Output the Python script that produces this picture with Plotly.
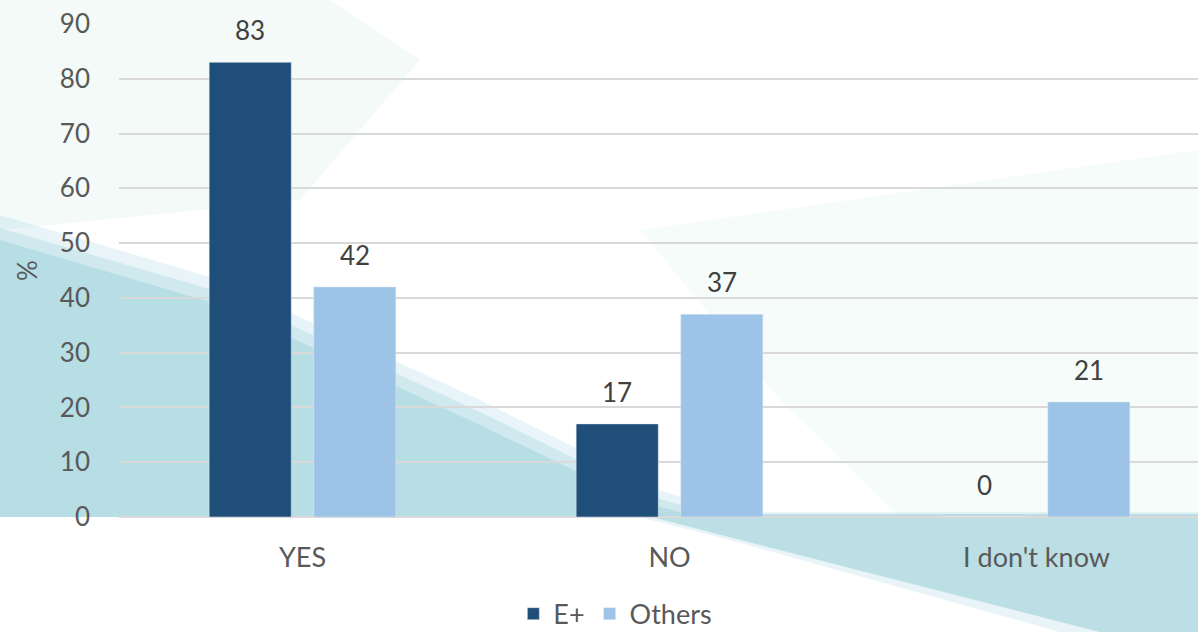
import plotly.graph_objects as go

categories = ["YES", "NO", "I don't know"]
e_plus = [83, 17, 0]
others = [42, 37, 21]
y_ticks = [0, 10, 20, 30, 40, 50, 60, 70, 80, 90]

W, H = 1198, 632
L, R, T, B = 119, 0, 24, 115
PW, PH = W - L - R, H - T - B


def px(x, y):
    return (x - L) / PW, (H - B - y) / PH


def poly(points):
    pts = [px(x, y) for x, y in points]
    return "M " + " L ".join(f"{a:.4f},{b:.4f}" for a, b in pts) + " Z"


teal = "rgba(180,219,227,{a})"
bg_shapes = [
    # faint green tint top-left
    ([(0, 0), (330, 0), (420, 60), (300, 200), (0, 230)], "rgba(228,244,239,0.45)"),
    # faint green tint right side
    ([(640, 230), (1198, 150), (1198, 517), (900, 517), (780, 400)], "rgba(230,245,241,0.35)"),
    # left teal region (soft edge layers)
    ([(0, 215), (220, 280), (480, 400), (660, 490), (740, 517), (0, 517)], teal.format(a=0.3)),
    ([(0, 228), (220, 292), (480, 412), (650, 496), (720, 517), (0, 517)], teal.format(a=0.45)),
    ([(0, 240), (220, 305), (480, 425), (640, 502), (700, 517), (0, 517)], teal.format(a=0.9)),
    # bottom right teal region (soft edge layers)
    ([(620, 512), (1198, 512), (1198, 632), (1060, 632), (730, 540)], teal.format(a=0.3)),
    ([(640, 514), (1198, 514), (1198, 632), (1100, 632), (760, 545)], teal.format(a=0.85)),
]

shapes = []
for pts, col in bg_shapes:
    shapes.append(dict(type="path", path=poly(pts), xref="paper", yref="paper",
                       fillcolor=col, line=dict(width=0), layer="below"))

fig = go.Figure()
fig.add_trace(go.Bar(name="E+", x=categories, y=e_plus, marker_color="#1F4E79"))
fig.add_trace(go.Bar(name="Others", x=categories, y=others, marker_color="#9DC3E6"))

slot_px = 104.5
annotations = []
for cat, v in zip(categories, e_plus):
    annotations.append(dict(x=cat, y=v, xref="x", yref="y", text=str(v), showarrow=False,
                            xshift=-slot_px / 2, yshift=14, yanchor="bottom",
                            font=dict(size=26, color="#404040")))
for cat, v in zip(categories, others):
    annotations.append(dict(x=cat, y=v, xref="x", yref="y", text=str(v), showarrow=False,
                            xshift=slot_px / 2, yshift=14, yanchor="bottom",
                            font=dict(size=26, color="#404040")))

fig.update_layout(
    width=W, height=H,
    margin=dict(l=L, r=R, t=T, b=B, autoexpand=False),
    paper_bgcolor="white",
    plot_bgcolor="rgba(0,0,0,0)",
    font=dict(family="Lato, Open Sans, sans-serif", size=26, color="#595959"),
    barmode="group",
    bargap=0.43,
    bargroupgap=0.215,
    shapes=shapes,
    annotations=annotations,
    legend=dict(orientation="h", x=0.46, xanchor="center", y=-0.197, yanchor="middle",
                font=dict(size=27, color="#595959"), bgcolor="rgba(0,0,0,0)",
                itemwidth=30, traceorder="normal"),
    xaxis=dict(range=[-0.5, 2.44], showgrid=False, showline=False, ticks="",
               automargin=False,
               ticklabelstandoff=22, tickfont=dict(size=27, color="#595959")),
    yaxis=dict(range=[0, 90], tickvals=y_ticks, showgrid=True, gridcolor="#d9d9d9",
               gridwidth=1.5, zeroline=True, zerolinecolor="#d9d9d9", zerolinewidth=2,
               automargin=False,
               ticks="", ticklabelstandoff=28, tickfont=dict(size=26, color="#595959"),
               title=dict(text="%", font=dict(size=26, color="#595959"), standoff=14)),
)

fig.write_html("out.html")
